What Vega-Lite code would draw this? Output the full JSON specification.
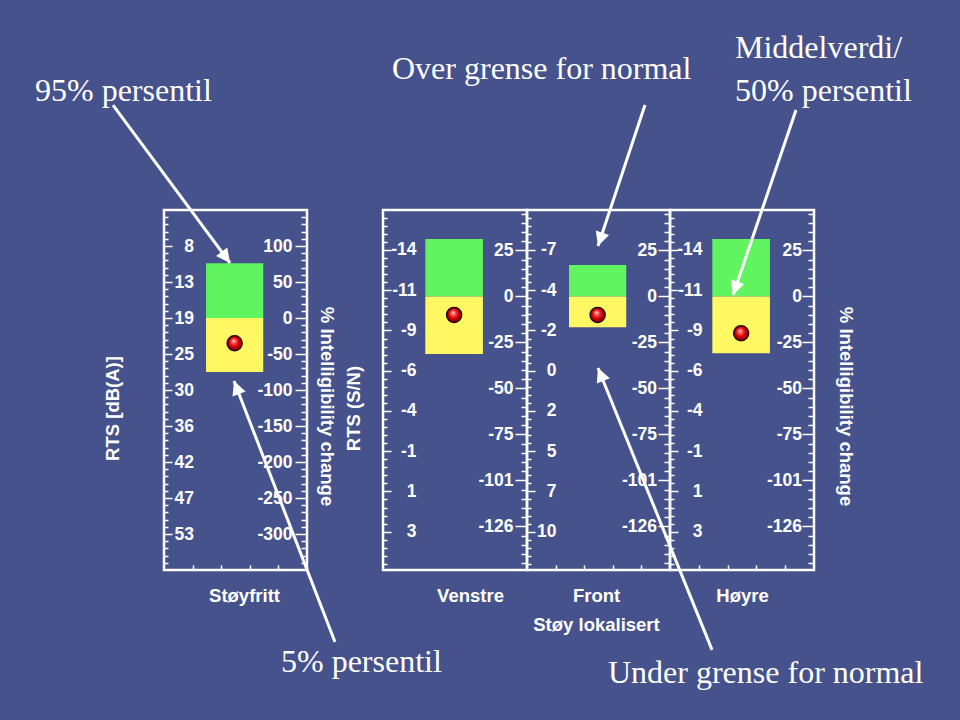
{
  "$schema": "https://vega.github.io/schema/vega-lite/v6.json",
  "background": "#46528C",
  "padding": {"left": 33, "top": 30, "right": 40, "bottom": 40},
  "autosize": {"type": "pad"},
  "config": {
    "view": {"stroke": "white", "strokeWidth": 2.5},
    "axis": {
      "labelColor": "white", "tickColor": "white", "titleColor": "white",
      "labelFont": "Liberation Sans", "labelFontWeight": "bold", "labelFontSize": 17.5,
      "titleFont": "Liberation Sans", "titleFontWeight": "bold", "titleFontSize": 18.5,
      "tickWidth": 1.5, "domain": false, "grid": false,
      "labelOverlap": false, "labelBound": false, "labelFlush": false
    }
  },
  "datasets": {
    "boxes": [
      {"panel": "Støyfritt", "zone": "Over", "lo": 0, "hi": 76},
      {"panel": "Støyfritt", "zone": "Under", "lo": -75, "hi": 0},
      {"panel": "Venstre", "zone": "Over", "lo": 0, "hi": 31.4},
      {"panel": "Venstre", "zone": "Under", "lo": -31.4, "hi": 0},
      {"panel": "Front", "zone": "Over", "lo": 0, "hi": 17.2},
      {"panel": "Front", "zone": "Under", "lo": -16.8, "hi": 0},
      {"panel": "Høyre", "zone": "Over", "lo": 0, "hi": 31.4},
      {"panel": "Høyre", "zone": "Under", "lo": -31.1, "hi": 0}
    ],
    "medians": [
      {"panel": "Støyfritt", "value": -35},
      {"panel": "Venstre", "value": -10.1},
      {"panel": "Front", "value": -10.1},
      {"panel": "Høyre", "value": -20.1}
    ],
    "arrows": [
      {"panel": "Støyfritt", "id": "A1", "x": -1.783, "y": 295.8, "x2": 2.308, "y2": 76.4},
      {"panel": "Støyfritt", "id": "A2", "x": 5.979, "y": -450, "x2": 2.448, "y2": -87.5},
      {"panel": "Front", "id": "A3", "x": 4.126, "y": 104.7, "x2": 2.483, "y2": 27.6},
      {"panel": "Front", "id": "A5", "x": 6.469, "y": -193.3, "x2": 2.483, "y2": -39.1},
      {"panel": "Høyre", "id": "A4", "x": 4.375, "y": 102.0, "x2": 2.188, "y2": 0.8}
    ],
    "notes": [
      {"panel": "Støyfritt", "text": "95% persentil", "x": -4.51, "y": 301.4},
      {"panel": "Støyfritt", "text": "5% persentil", "x": 4.091, "y": -491.7},
      {"panel": "Front", "text": "Over grense for  normal", "x": -4.72, "y": 119.0},
      {"panel": "Front", "text": "Under grense for normal", "x": 2.832, "y": -211.4},
      {"panel": "Høyre", "text": "Middelverdi/", "x": 2.257, "y": 130.4},
      {"panel": "Høyre", "text": "50% persentil", "x": 2.257, "y": 106.9}
    ]
  },
  "hconcat": [
    {
      "width": 143, "height": 360,
      "resolve": {"axis": {"x": "independent", "y": "independent"}},
      "layer": [
        {
          "data": {"name": "boxes"},
          "transform": [{"filter": "datum.panel === 'Støyfritt'"}],
          "mark": {"type": "rect"},
          "encoding": {
            "x": {"datum": 1.47, "type": "quantitative", "scale": {"domain": [0, 5], "nice": false, "zero": false},
              "axis": {"orient": "bottom", "values": [1, 2, 3, 4], "tickSize": -5, "labels": false, "title": "Støyfritt", "titleX": 80, "titleY": 31.5, "titleBaseline": "alphabetic", "titleAlign": "center", "titleAngle": 0}},
            "x2": {"datum": 3.47},
            "y": {"field": "lo", "type": "quantitative", "scale": {"domain": [-350, 150], "nice": false, "zero": false},
              "axis": {"orient": "left",
                "values": [-340,-330,-320,-310,-300,-290,-280,-270,-260,-250,-240,-230,-220,-210,-200,-190,-180,-170,-160,-150,-140,-130,-120,-110,-100,-90,-80,-70,-60,-50,-40,-30,-20,-10,0,10,20,30,40,50,60,70,80,90,100,110,120,130,140],
                "tickSize": {"condition": {"test": "datum.value % 50 === 0", "value": -8}, "value": -4},
                "labelExpr": "indexof([100,50,0,-50,-100,-150,-200,-250,-300], datum.value) < 0 ? '' : ['8','13','19','25','30','36','42','47','53'][indexof([100,50,0,-50,-100,-150,-200,-250,-300], datum.value)]",
                "labelPadding": -21.5,
                "title": "RTS [dB(A)]", "titleAngle": 270, "titleX": -52, "titleY": 198, "titleBaseline": "middle", "titleAlign": "center"}},
            "y2": {"field": "hi"},
            "color": {"field": "zone", "type": "nominal", "scale": {"domain": ["Over", "Under"], "range": ["#60F560", "#FFF862"]}, "legend": null}
          }
        },
        {
          "data": {"name": "medians"},
          "transform": [{"filter": "datum.panel === 'Støyfritt'"}],
          "mark": {"type": "point", "shape": "circle", "filled": true, "opacity": 1, "size": 230, "stroke": "#1a0000", "strokeWidth": 1.3,
            "fill": {"gradient": "radial", "x1": 0.42, "y1": 0.33, "r1": 0, "x2": 0.5, "y2": 0.5, "r2": 0.55,
              "stops": [{"offset": 0, "color": "#ffffff"}, {"offset": 0.2, "color": "#ff6a6a"}, {"offset": 0.55, "color": "#e00000"}, {"offset": 1, "color": "#5a0000"}]}},
          "encoding": {
            "x": {"datum": 2.47, "type": "quantitative", "scale": {"domain": [0, 5], "nice": false, "zero": false}, "axis": null},
            "y": {"field": "value", "type": "quantitative", "scale": {"domain": [-350, 150], "nice": false, "zero": false},
              "axis": {"orient": "right",
                "values": [-340,-330,-320,-310,-300,-290,-280,-270,-260,-250,-240,-230,-220,-210,-200,-190,-180,-170,-160,-150,-140,-130,-120,-110,-100,-90,-80,-70,-60,-50,-40,-30,-20,-10,0,10,20,30,40,50,60,70,80,90,100,110,120,130,140],
                "tickSize": {"condition": {"test": "datum.value % 50 === 0", "value": -12}, "value": -6},
                "labelExpr": "datum.value % 50 === 0 ? (datum.value < 0 ? '-' + abs(datum.value) : '' + datum.value) : ''",
                "labelAlign": "right", "labelPadding": -3,
                "title": "% Intelligibility change", "titleAngle": 90, "titleX": 19, "titleY": 196, "titleBaseline": "middle", "titleAlign": "center"}}
          }
        },
        {
          "data": {"name": "arrows"},
          "transform": [{"filter": "datum.panel === 'Støyfritt'"}],
          "mark": {"type": "rule", "color": "white", "strokeWidth": 3},
          "encoding": {
            "x": {"field": "x", "type": "quantitative", "scale": {"domain": [0, 5], "nice": false, "zero": false}, "axis": null},
            "y": {"field": "y", "type": "quantitative", "scale": {"domain": [-350, 150], "nice": false, "zero": false}, "axis": null},
            "x2": {"field": "x2"},
            "y2": {"field": "y2"}
          }
        },
        {
          "data": {"name": "arrows"},
          "transform": [{"filter": "datum.id === 'A1'"}],
          "mark": {"type": "point", "shape": "M0,0L-0.5,1L0.5,1Z", "filled": true, "color": "white", "opacity": 1, "size": 784, "angle": 143.5},
          "encoding": {
            "x": {"field": "x2", "type": "quantitative", "scale": {"domain": [0, 5], "nice": false, "zero": false}, "axis": null},
            "y": {"field": "y2", "type": "quantitative", "scale": {"domain": [-350, 150], "nice": false, "zero": false}, "axis": null}
          }
        },
        {
          "data": {"name": "arrows"},
          "transform": [{"filter": "datum.id === 'A2'"}],
          "mark": {"type": "point", "shape": "M0,0L-0.5,1L0.5,1Z", "filled": true, "color": "white", "opacity": 1, "size": 784, "angle": -21.2},
          "encoding": {
            "x": {"field": "x2", "type": "quantitative", "scale": {"domain": [0, 5], "nice": false, "zero": false}, "axis": null},
            "y": {"field": "y2", "type": "quantitative", "scale": {"domain": [-350, 150], "nice": false, "zero": false}, "axis": null}
          }
        },
        {
          "data": {"name": "notes"},
          "transform": [{"filter": "datum.panel === 'Støyfritt'"}],
          "mark": {"type": "text", "align": "left", "baseline": "alphabetic", "font": "Liberation Serif", "fontSize": 32, "color": "white"},
          "encoding": {
            "x": {"field": "x", "type": "quantitative", "scale": {"domain": [0, 5], "nice": false, "zero": false}, "axis": null},
            "y": {"field": "y", "type": "quantitative", "scale": {"domain": [-350, 150], "nice": false, "zero": false}, "axis": null},
            "text": {"field": "text"}
          }
        }
      ]
    },
    {
      "spacing": 0,
      "bounds": "flush",
      "align": "none",
      "hconcat": [
        {
          "width": 144, "height": 360,
          "resolve": {"axis": {"x": "independent", "y": "independent"}},
          "layer": [
            {
              "data": {"name": "boxes"},
              "transform": [{"filter": "datum.panel === 'Venstre'"}],
              "mark": {"type": "rect"},
              "encoding": {
                "x": {"datum": 1.47, "type": "quantitative", "scale": {"domain": [0, 5], "nice": false, "zero": false},
                  "axis": {"orient": "bottom", "values": [1, 2, 3, 4], "ticks": false, "labels": false, "title": "Venstre", "titleX": 87, "titleY": 31.5, "titleBaseline": "alphabetic", "titleAlign": "center", "titleAngle": 0}},
                "x2": {"datum": 3.47},
                "y": {"field": "lo", "type": "quantitative", "scale": {"domain": [-149.6, 47.3], "nice": false, "zero": false},
                  "axis": {"orient": "left",
                    "values": [43.038,38.636,34.234,29.832,25.43,21.028,16.626,12.224,7.822,3.42,-0.982,-5.384,-9.786,-14.188,-18.59,-22.992,-27.394,-31.796,-36.198,-40.6,-45.002,-49.404,-53.806,-58.208,-62.61,-67.012,-71.414,-75.816,-80.218,-84.62,-89.022,-93.424,-97.826,-102.228,-106.63,-111.032,-115.434,-119.836,-124.238,-128.64,-133.042,-137.444,-141.846,-146.248],
                    "tickSize": {"condition": {"test": "indexof([25.43,3.42,-18.59,-40.6,-62.61,-84.62,-106.63,-128.64], datum.value) >= 0", "value": -8}, "value": -4},
                    "labelExpr": "indexof([25.43,3.42,-18.59,-40.6,-62.61,-84.62,-106.63,-128.64], datum.value) < 0 ? '' : ['-14','-11','-9','-6','-4','-1','1','3'][indexof([25.43,3.42,-18.59,-40.6,-62.61,-84.62,-106.63,-128.64], datum.value)]",
                    "labelPadding": -25,
                    "title": "RTS (S/N)", "titleAngle": 270, "titleX": -30, "titleY": 198, "titleBaseline": "middle", "titleAlign": "center"}},
                "y2": {"field": "hi"},
                "color": {"field": "zone", "type": "nominal", "scale": {"domain": ["Over", "Under"], "range": ["#60F560", "#FFF862"]}, "legend": null}
              }
            },
            {
              "data": {"name": "medians"},
              "transform": [{"filter": "datum.panel === 'Venstre'"}],
              "mark": {"type": "point", "shape": "circle", "filled": true, "opacity": 1, "size": 230, "stroke": "#1a0000", "strokeWidth": 1.3,
                "fill": {"gradient": "radial", "x1": 0.42, "y1": 0.33, "r1": 0, "x2": 0.5, "y2": 0.5, "r2": 0.55,
                  "stops": [{"offset": 0, "color": "#ffffff"}, {"offset": 0.2, "color": "#ff6a6a"}, {"offset": 0.55, "color": "#e00000"}, {"offset": 1, "color": "#5a0000"}]}},
              "encoding": {
                "x": {"datum": 2.47, "type": "quantitative", "scale": {"domain": [0, 5], "nice": false, "zero": false}, "axis": null},
                "y": {"field": "value", "type": "quantitative", "scale": {"domain": [-149.6, 47.3], "nice": false, "zero": false},
                  "axis": {"orient": "right",
                    "values": [45.288,40.256,35.224,30.192,25.16,20.128,15.096,10.064,5.032,0,-5.032,-10.064,-15.096,-20.128,-25.16,-30.192,-35.224,-40.256,-45.288,-50.32,-55.352,-60.384,-65.416,-70.448,-75.48,-80.512,-85.544,-90.576,-95.608,-100.64,-105.672,-110.704,-115.736,-120.768,-125.8,-130.832,-135.864,-140.896,-145.928],
                    "tickSize": {"condition": {"test": "indexof([25.16,0,-25.16,-50.32,-75.48,-100.64,-125.8], datum.value) >= 0", "value": -12}, "value": -6},
                    "labelExpr": "indexof([25.16,0,-25.16,-50.32,-75.48,-100.64,-125.8], datum.value) < 0 ? '' : ['25','0','-25','-50','-75','-101','-126'][indexof([25.16,0,-25.16,-50.32,-75.48,-100.64,-125.8], datum.value)]",
                    "labelAlign": "right", "labelPadding": -2,
                    "title": null}}
              }
            }
          ]
        },
        {
          "width": 143, "height": 360,
          "resolve": {"axis": {"x": "independent", "y": "independent"}},
          "layer": [
            {
              "data": {"name": "boxes"},
              "transform": [{"filter": "datum.panel === 'Front'"}],
              "mark": {"type": "rect"},
              "encoding": {
                "x": {"datum": 1.47, "type": "quantitative", "scale": {"domain": [0, 5], "nice": false, "zero": false},
                  "axis": {"orient": "bottom", "values": [1, 2, 3, 4], "tickSize": -5, "labels": false, "title": ["Front", "Støy lokalisert"], "titleLineHeight": 29, "titleX": 69, "titleY": 31.5, "titleBaseline": "alphabetic", "titleAlign": "center", "titleAngle": 0}},
                "x2": {"datum": 3.47},
                "y": {"field": "lo", "type": "quantitative", "scale": {"domain": [-149.6, 47.3], "nice": false, "zero": false},
                  "axis": {"orient": "left",
                    "values": [43.038,38.636,34.234,29.832,25.43,21.028,16.626,12.224,7.822,3.42,-0.982,-5.384,-9.786,-14.188,-18.59,-22.992,-27.394,-31.796,-36.198,-40.6,-45.002,-49.404,-53.806,-58.208,-62.61,-67.012,-71.414,-75.816,-80.218,-84.62,-89.022,-93.424,-97.826,-102.228,-106.63,-111.032,-115.434,-119.836,-124.238,-128.64,-133.042,-137.444,-141.846,-146.248],
                    "tickSize": {"condition": {"test": "indexof([25.43,3.42,-18.59,-40.6,-62.61,-84.62,-106.63,-128.64], datum.value) >= 0", "value": -8}, "value": -4},
                    "labelExpr": "indexof([25.43,3.42,-18.59,-40.6,-62.61,-84.62,-106.63,-128.64], datum.value) < 0 ? '' : ['-7','-4','-2','0','2','5','7','10'][indexof([25.43,3.42,-18.59,-40.6,-62.61,-84.62,-106.63,-128.64], datum.value)]",
                    "labelPadding": -21,
                    "title": null}},
                "y2": {"field": "hi"},
                "color": {"field": "zone", "type": "nominal", "scale": {"domain": ["Over", "Under"], "range": ["#60F560", "#FFF862"]}, "legend": null}
              }
            },
            {
              "data": {"name": "medians"},
              "transform": [{"filter": "datum.panel === 'Front'"}],
              "mark": {"type": "point", "shape": "circle", "filled": true, "opacity": 1, "size": 230, "stroke": "#1a0000", "strokeWidth": 1.3,
                "fill": {"gradient": "radial", "x1": 0.42, "y1": 0.33, "r1": 0, "x2": 0.5, "y2": 0.5, "r2": 0.55,
                  "stops": [{"offset": 0, "color": "#ffffff"}, {"offset": 0.2, "color": "#ff6a6a"}, {"offset": 0.55, "color": "#e00000"}, {"offset": 1, "color": "#5a0000"}]}},
              "encoding": {
                "x": {"datum": 2.47, "type": "quantitative", "scale": {"domain": [0, 5], "nice": false, "zero": false}, "axis": null},
                "y": {"field": "value", "type": "quantitative", "scale": {"domain": [-149.6, 47.3], "nice": false, "zero": false},
                  "axis": {"orient": "right",
                    "values": [45.288,40.256,35.224,30.192,25.16,20.128,15.096,10.064,5.032,0,-5.032,-10.064,-15.096,-20.128,-25.16,-30.192,-35.224,-40.256,-45.288,-50.32,-55.352,-60.384,-65.416,-70.448,-75.48,-80.512,-85.544,-90.576,-95.608,-100.64,-105.672,-110.704,-115.736,-120.768,-125.8,-130.832,-135.864,-140.896,-145.928],
                    "tickSize": {"condition": {"test": "indexof([25.16,0,-25.16,-50.32,-75.48,-100.64,-125.8], datum.value) >= 0", "value": -12}, "value": -6},
                    "labelExpr": "indexof([25.16,0,-25.16,-50.32,-75.48,-100.64,-125.8], datum.value) < 0 ? '' : ['25','0','-25','-50','-75','-101','-126'][indexof([25.16,0,-25.16,-50.32,-75.48,-100.64,-125.8], datum.value)]",
                    "labelAlign": "right", "labelPadding": -1.5,
                    "title": null}}
              }
            },
            {
              "data": {"name": "arrows"},
              "transform": [{"filter": "datum.panel === 'Front'"}],
              "mark": {"type": "rule", "color": "white", "strokeWidth": 3},
              "encoding": {
                "x": {"field": "x", "type": "quantitative", "scale": {"domain": [0, 5], "nice": false, "zero": false}, "axis": null},
                "y": {"field": "y", "type": "quantitative", "scale": {"domain": [-149.6, 47.3], "nice": false, "zero": false}, "axis": null},
                "x2": {"field": "x2"},
                "y2": {"field": "y2"}
              }
            },
            {
              "data": {"name": "arrows"},
              "transform": [{"filter": "datum.id === 'A3'"}],
              "mark": {"type": "point", "shape": "M0,0L-0.5,1L0.5,1Z", "filled": true, "color": "white", "opacity": 1, "size": 784, "angle": -161.6},
              "encoding": {
                "x": {"field": "x2", "type": "quantitative", "scale": {"domain": [0, 5], "nice": false, "zero": false}, "axis": null},
                "y": {"field": "y2", "type": "quantitative", "scale": {"domain": [-149.6, 47.3], "nice": false, "zero": false}, "axis": null}
              }
            },
            {
              "data": {"name": "arrows"},
              "transform": [{"filter": "datum.id === 'A5'"}],
              "mark": {"type": "point", "shape": "M0,0L-0.5,1L0.5,1Z", "filled": true, "color": "white", "opacity": 1, "size": 784, "angle": -22.0},
              "encoding": {
                "x": {"field": "x2", "type": "quantitative", "scale": {"domain": [0, 5], "nice": false, "zero": false}, "axis": null},
                "y": {"field": "y2", "type": "quantitative", "scale": {"domain": [-149.6, 47.3], "nice": false, "zero": false}, "axis": null}
              }
            },
            {
              "data": {"name": "notes"},
              "transform": [{"filter": "datum.panel === 'Front'"}],
              "mark": {"type": "text", "align": "left", "baseline": "alphabetic", "font": "Liberation Serif", "fontSize": 32, "color": "white"},
              "encoding": {
                "x": {"field": "x", "type": "quantitative", "scale": {"domain": [0, 5], "nice": false, "zero": false}, "axis": null},
                "y": {"field": "y", "type": "quantitative", "scale": {"domain": [-149.6, 47.3], "nice": false, "zero": false}, "axis": null},
                "text": {"field": "text"}
              }
            }
          ]
        },
        {
          "width": 144, "height": 360,
          "resolve": {"axis": {"x": "independent", "y": "independent"}},
          "layer": [
            {
              "data": {"name": "boxes"},
              "transform": [{"filter": "datum.panel === 'Høyre'"}],
              "mark": {"type": "rect"},
              "encoding": {
                "x": {"datum": 1.47, "type": "quantitative", "scale": {"domain": [0, 5], "nice": false, "zero": false},
                  "axis": {"orient": "bottom", "values": [1, 2, 3, 4], "tickSize": -5, "labels": false, "title": "Høyre", "titleX": 72, "titleY": 31.5, "titleBaseline": "alphabetic", "titleAlign": "center", "titleAngle": 0}},
                "x2": {"datum": 3.47},
                "y": {"field": "lo", "type": "quantitative", "scale": {"domain": [-149.6, 47.3], "nice": false, "zero": false},
                  "axis": {"orient": "left",
                    "values": [43.038,38.636,34.234,29.832,25.43,21.028,16.626,12.224,7.822,3.42,-0.982,-5.384,-9.786,-14.188,-18.59,-22.992,-27.394,-31.796,-36.198,-40.6,-45.002,-49.404,-53.806,-58.208,-62.61,-67.012,-71.414,-75.816,-80.218,-84.62,-89.022,-93.424,-97.826,-102.228,-106.63,-111.032,-115.434,-119.836,-124.238,-128.64,-133.042,-137.444,-141.846,-146.248],
                    "tickSize": {"condition": {"test": "indexof([25.43,3.42,-18.59,-40.6,-62.61,-84.62,-106.63,-128.64], datum.value) >= 0", "value": -8}, "value": -4},
                    "labelExpr": "indexof([25.43,3.42,-18.59,-40.6,-62.61,-84.62,-106.63,-128.64], datum.value) < 0 ? '' : ['-14','-11','-9','-6','-4','-1','1','3'][indexof([25.43,3.42,-18.59,-40.6,-62.61,-84.62,-106.63,-128.64], datum.value)]",
                    "labelPadding": -24,
                    "title": null}},
                "y2": {"field": "hi"},
                "color": {"field": "zone", "type": "nominal", "scale": {"domain": ["Over", "Under"], "range": ["#60F560", "#FFF862"]}, "legend": null}
              }
            },
            {
              "data": {"name": "medians"},
              "transform": [{"filter": "datum.panel === 'Høyre'"}],
              "mark": {"type": "point", "shape": "circle", "filled": true, "opacity": 1, "size": 230, "stroke": "#1a0000", "strokeWidth": 1.3,
                "fill": {"gradient": "radial", "x1": 0.42, "y1": 0.33, "r1": 0, "x2": 0.5, "y2": 0.5, "r2": 0.55,
                  "stops": [{"offset": 0, "color": "#ffffff"}, {"offset": 0.2, "color": "#ff6a6a"}, {"offset": 0.55, "color": "#e00000"}, {"offset": 1, "color": "#5a0000"}]}},
              "encoding": {
                "x": {"datum": 2.47, "type": "quantitative", "scale": {"domain": [0, 5], "nice": false, "zero": false}, "axis": null},
                "y": {"field": "value", "type": "quantitative", "scale": {"domain": [-149.6, 47.3], "nice": false, "zero": false},
                  "axis": {"orient": "right",
                    "values": [45.288,40.256,35.224,30.192,25.16,20.128,15.096,10.064,5.032,0,-5.032,-10.064,-15.096,-20.128,-25.16,-30.192,-35.224,-40.256,-45.288,-50.32,-55.352,-60.384,-65.416,-70.448,-75.48,-80.512,-85.544,-90.576,-95.608,-100.64,-105.672,-110.704,-115.736,-120.768,-125.8,-130.832,-135.864,-140.896,-145.928],
                    "tickSize": {"condition": {"test": "indexof([25.16,0,-25.16,-50.32,-75.48,-100.64,-125.8], datum.value) >= 0", "value": -12}, "value": -6},
                    "labelExpr": "indexof([25.16,0,-25.16,-50.32,-75.48,-100.64,-125.8], datum.value) < 0 ? '' : ['25','0','-25','-50','-75','-101','-126'][indexof([25.16,0,-25.16,-50.32,-75.48,-100.64,-125.8], datum.value)]",
                    "labelAlign": "right", "labelPadding": -0.5,
                    "title": "% Intelligibility change", "titleAngle": 90, "titleX": 31, "titleY": 196, "titleBaseline": "middle", "titleAlign": "center"}}
              }
            },
            {
              "data": {"name": "arrows"},
              "transform": [{"filter": "datum.panel === 'Høyre'"}],
              "mark": {"type": "rule", "color": "white", "strokeWidth": 3},
              "encoding": {
                "x": {"field": "x", "type": "quantitative", "scale": {"domain": [0, 5], "nice": false, "zero": false}, "axis": null},
                "y": {"field": "y", "type": "quantitative", "scale": {"domain": [-149.6, 47.3], "nice": false, "zero": false}, "axis": null},
                "x2": {"field": "x2"},
                "y2": {"field": "y2"}
              }
            },
            {
              "data": {"name": "arrows"},
              "transform": [{"filter": "datum.id === 'A4'"}],
              "mark": {"type": "point", "shape": "M0,0L-0.5,1L0.5,1Z", "filled": true, "color": "white", "opacity": 1, "size": 784, "angle": -161.2},
              "encoding": {
                "x": {"field": "x2", "type": "quantitative", "scale": {"domain": [0, 5], "nice": false, "zero": false}, "axis": null},
                "y": {"field": "y2", "type": "quantitative", "scale": {"domain": [-149.6, 47.3], "nice": false, "zero": false}, "axis": null}
              }
            },
            {
              "data": {"name": "notes"},
              "transform": [{"filter": "datum.panel === 'Høyre'"}],
              "mark": {"type": "text", "align": "left", "baseline": "alphabetic", "font": "Liberation Serif", "fontSize": 32, "color": "white"},
              "encoding": {
                "x": {"field": "x", "type": "quantitative", "scale": {"domain": [0, 5], "nice": false, "zero": false}, "axis": null},
                "y": {"field": "y", "type": "quantitative", "scale": {"domain": [-149.6, 47.3], "nice": false, "zero": false}, "axis": null},
                "text": {"field": "text"}
              }
            }
          ]
        }
      ]
    }
  ],
  "spacing": 76,
  "bounds": "flush",
  "align": "none"
}
